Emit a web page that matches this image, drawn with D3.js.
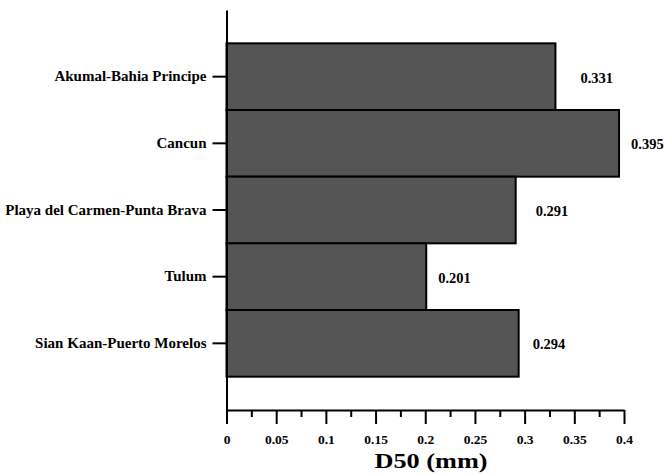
<!DOCTYPE html>
<html>
<head>
<meta charset="utf-8">
<script src="https://cdn.jsdelivr.net/npm/d3@7"></script>
<style>
  body { margin: 0; background: #fff; }
  text { font-family: "Liberation Serif", "Times New Roman", serif; font-weight: bold; fill: #000; }
</style>
</head>
<body>
<div id="chart"></div>
<script>
(function() {
'use strict';

// data
const sites = ['Akumal-Bahia Principe', 'Cancun', 'Playa del Carmen-Punta Brava', 'Tulum', 'Sian Kaan-Puerto Morelos'];
const d50 = [0.331, 0.395, 0.291, 0.201, 0.294];
const xTicks = [0, 0.05, 0.1, 0.15, 0.2, 0.25, 0.3, 0.35, 0.4];
const xMinorTicks = [0.025, 0.075, 0.125, 0.175, 0.225, 0.275, 0.325, 0.375];

// gap between bar end and its value label (labels were placed by hand)
const labelDx = [25, 12, 20, 12, 14];

const W = 665;
const H = 475;
const LEFT = 226.5;
const RIGHT = 624;
const TOP = 10;
const BOTTOM = 410;

const svg = d3.select('#chart')
  .append('svg')
    .attr('width', W)
    .attr('height', H);

const xScale = d3.scaleLinear()
  .domain([0, 0.4])
  .range([LEFT, RIGHT]);

const yScale = d3.scaleBand()
  .domain(sites)
  .range([TOP, BOTTOM])
  .paddingInner(0)
  .paddingOuter(0.5);

// bars
svg.selectAll('rect.bar')
  .data(d50)
  .enter()
  .append('rect')
    .attr('class', 'bar')
    .attr('x', xScale(0))
    .attr('y', (d, i) => yScale(sites[i]))
    .attr('width', (d) => xScale(d) - xScale(0))
    .attr('height', yScale.bandwidth())
    .attr('fill', '#555555')
    .attr('stroke', '#000')
    .attr('stroke-width', 2);

// value labels
svg.selectAll('text.val')
  .data(d50)
  .enter()
  .append('text')
    .attr('class', 'val')
    .attr('x', (d, i) => xScale(d) + labelDx[i])
    .attr('y', (d, i) => yScale(sites[i]) + yScale.bandwidth() / 2 + 1)
    .attr('dy', '0.35em')
    .attr('font-size', 14.5)
    .text((d) => d.toFixed(3));

// x axis
const xAxis = d3.axisBottom(xScale)
  .tickValues(xTicks)
  .tickFormat((d) => String(d))
  .tickSize(14)
  .tickSizeOuter(0)
  .tickPadding(10);

const gx = svg.append('g')
  .attr('transform', `translate(0, ${BOTTOM})`)
  .call(xAxis);

gx.selectAll('text')
  .attr('font-size', 13.5)
  .attr('font-family', null);

svg.append('g')
  .attr('transform', `translate(0, ${BOTTOM})`)
  .call(d3.axisBottom(xScale).tickValues(xMinorTicks).tickSize(7).tickSizeOuter(0).tickFormat(''))
  .select('.domain').remove();

// y axis
const yAxis = d3.axisLeft(yScale)
  .tickSize(14)
  .tickSizeOuter(0)
  .tickPadding(6);

const gy = svg.append('g')
  .attr('transform', `translate(${LEFT}, 0)`)
  .call(yAxis);

gy.selectAll('text')
  .attr('font-size', 15)
  .attr('font-family', null);

svg.selectAll('.domain, .tick line')
  .attr('stroke', '#000')
  .attr('stroke-width', 2);

// axis title
svg.append('text')
  .attr('x', 431)
  .attr('y', 468)
  .attr('text-anchor', 'middle')
  .attr('font-size', 22)
  .attr('textLength', 113)
  .attr('lengthAdjust', 'spacingAndGlyphs')
  .text('D50 (mm)');

})();
</script>
</body>
</html>
